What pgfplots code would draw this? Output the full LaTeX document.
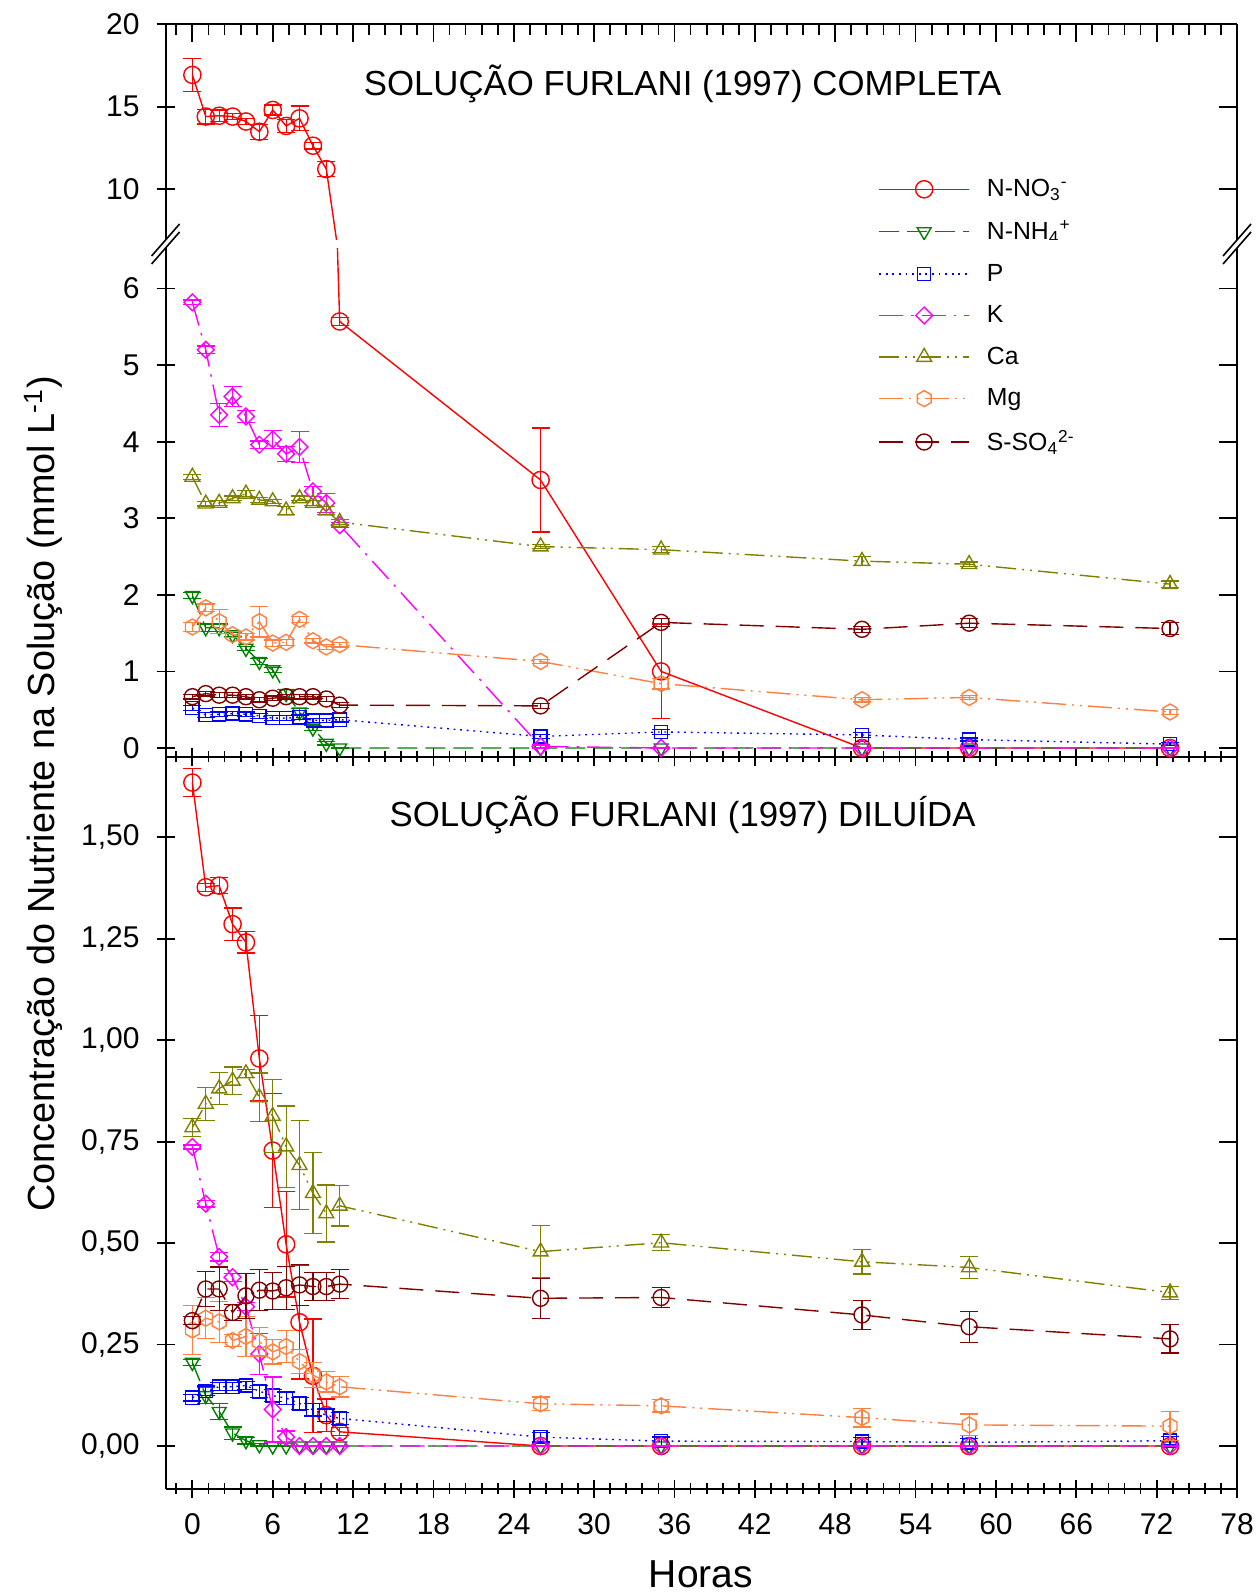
\documentclass[border=0pt]{standalone}
\usepackage{fontspec}
\setmainfont{Liberation Sans}
\usepackage{pgfplots}
\pgfplotsset{compat=1.18}
\usetikzlibrary{plotmarks}

\definecolor{cNO}{RGB}{255,0,0}
\definecolor{cNH}{RGB}{0,128,0}
\definecolor{cP}{RGB}{0,0,255}
\definecolor{cK}{RGB}{255,0,255}
\definecolor{cCa}{RGB}{128,128,0}
\definecolor{cMg}{RGB}{255,128,64}
\definecolor{cS}{RGB}{128,0,0}

\pgfdeclareplotmark{hexa}{%
  \pgfpathmoveto{\pgfpointpolar{90}{\pgfplotmarksize}}%
  \pgfpathlineto{\pgfpointpolar{150}{\pgfplotmarksize}}%
  \pgfpathlineto{\pgfpointpolar{210}{\pgfplotmarksize}}%
  \pgfpathlineto{\pgfpointpolar{270}{\pgfplotmarksize}}%
  \pgfpathlineto{\pgfpointpolar{330}{\pgfplotmarksize}}%
  \pgfpathlineto{\pgfpointpolar{30}{\pgfplotmarksize}}%
  \pgfpathclose
  \pgfusepathqstroke}
\pgfdeclareplotmark{rhomb}{%
  \pgfpathmoveto{\pgfqpoint{0pt}{\pgfplotmarksize}}%
  \pgfpathlineto{\pgfqpoint{\pgfplotmarksize}{0pt}}%
  \pgfpathlineto{\pgfqpoint{0pt}{-\pgfplotmarksize}}%
  \pgfpathlineto{\pgfqpoint{-\pgfplotmarksize}{0pt}}%
  \pgfpathclose
  \pgfusepathqstroke}

\pgfplotsset{
  panel/.style={width=535.7pt, scale only axis, anchor=south west,
    xmin=-2, xmax=78, xtick={0,6,...,78}, minor xtick={-1.2,0,...,77},
    tick align=center, major tick length=9pt, minor tick length=5.5pt,
    axis line style={-, line width=1pt},
    every tick/.style={black, line width=0.9pt},
    tick label style={font=\fontsize{15}{15}\selectfont},
    yticklabel style={xshift=-5pt},
    xticklabel style={yshift=-4.6pt},
    /pgf/number format/assume math mode=true,
    clip mode=individual},
  rside/.style={panel, axis x line=none, axis y line*=right, tick align=inside, yticklabels={}},
  eb/.style={error bars/y dir=both, error bars/y explicit,
    error bars/error bar style={solid, line width=0.6pt},
    error bars/error mark options={rotate=90, mark size=4.5pt, line width=0.6pt, solid}},
  sNO/.style={color=cNO, solid, line width=0.7pt, mark=o, mark size=4.3pt, mark options={solid}},
  sNH/.style={color=cNH, dash pattern=on 10pt off 4pt, line width=0.7pt, mark=triangle, mark size=4pt, mark options={solid, rotate=180}},
  sP/.style={color=cP, dash pattern=on 0.9pt off 2.4pt, line width=0.7pt, mark=square, mark size=3.3pt, mark options={solid}},
  sK/.style={color=cK, dash pattern=on 12pt off 4pt on 1.2pt off 4pt, line width=0.7pt, mark=rhomb, mark size=4.2pt, mark options={solid}},
  sCa/.style={color=cCa, dash pattern=on 10pt off 3pt on 1pt off 3pt on 1pt off 3pt, line width=0.7pt, mark=triangle, mark size=4.3pt, mark options={solid}},
  sMg/.style={color=cMg, dash pattern=on 12pt off 3pt on 1pt off 3pt on 1pt off 3pt, line width=0.7pt, mark=hexa, mark size=4pt, mark options={solid}},
  sS/.style={color=cS, dash pattern=on 12pt off 6pt, line width=0.7pt, mark=o, mark size=4pt, mark options={solid}},
}

\begin{document}
\begin{tikzpicture}
\useasboundingbox (0,0) rectangle (627.5pt,796.5pt);

% ---------- top panel (complete solution, N-NO3 above the break)
\begin{axis}[panel, at={(82.8pt,674.5pt)}, height=109.8pt,
  ymin=6.66, ymax=20, ytick={10,15,20},
  axis x line=none, axis y line*=left]
\addplot[sNO, eb] table[x=t, y=v, y error=e, row sep=\\] {
t v e\\
0 16.93 1.0\\
1 14.40 0.45\\
2 14.45 0.35\\
3 14.40 0.2\\
4 14.10 0.2\\
5 13.48 0.45\\
6 14.80 0.3\\
7 13.83 0.4\\
8 14.29 0.75\\
9 12.63 0.2\\
10 11.21 0.45\\
};
\addplot[sNO, mark=none, forget plot] coordinates {(10,11.21) (11,5.57)};
\node[font=\fontsize{17.4}{17.4}\selectfont] at (axis cs:36.6,16.36) {SOLUÇÃO FURLANI (1997) COMPLETA};
\end{axis}
\begin{axis}[panel, at={(82.8pt,674.5pt)}, height=109.8pt,
  ymin=6.66, ymax=20, ytick={10,15,20},
  axis x line*=top, axis y line*=right, tick align=inside,
  xticklabels={}, yticklabels={}]
\end{axis}

% ---------- middle panel (complete solution, 0-6.5)
\begin{axis}[panel, at={(82.8pt,418pt)}, height=256.5pt,
  ymin=-0.1175, ymax=6.582, ytick={0,1,...,6},
  axis x line*=bottom, axis y line*=left, xticklabels={},
  legend cell align=left,
  legend style={draw=none, fill=none, at={(0.665,1.135)}, anchor=north west,
    font=\fontsize{12.4}{14}\selectfont, row sep=6.7pt, inner sep=0pt,
    /tikz/every odd column/.style={column sep=6.5pt}},
  legend image code/.code={\draw[mark repeat=2, mark phase=2, #1] plot coordinates {(0pt,0pt) (22.5pt,0pt) (45pt,0pt)};}]
\addplot[sNO, eb] table[x=t, y=v, y error=e, row sep=\\] {
t v e\\
11 5.57 0.05\\
26 3.50 0.68\\
35 1.00 0.62\\
50 0 0\\
58 0 0\\
73 0 0\\
};
\addlegendentry{N-NO\textsubscript{3}\textsuperscript{-}}
\addplot[sNO, mark=none, forget plot] coordinates {(10,11.21) (11,5.57)};
\addplot[sNH, eb] table[x=t, y=v, y error=e, row sep=\\] {
t v e\\
0 1.99 0.04\\
1 1.57 0.05\\
2 1.57 0.05\\
3 1.48 0.03\\
4 1.30 0.03\\
5 1.13 0.04\\
6 1.02 0.03\\
7 0.71 0.05\\
8 0.47 0.05\\
9 0.26 0.03\\
10 0.06 0.02\\
11 0 0\\
26 0 0\\
35 0 0\\
50 0 0\\
58 0 0\\
73 0 0\\
};
\addlegendentry{N-NH\textsubscript{4}\textsuperscript{+}}
\addplot[sP, eb] table[x=t, y=v, y error=e, row sep=\\] {
t v e\\
0 0.52 0.03\\
1 0.43 0.03\\
2 0.44 0.03\\
3 0.45 0.03\\
4 0.44 0.03\\
5 0.42 0.03\\
6 0.39 0.03\\
7 0.39 0.03\\
8 0.40 0.03\\
9 0.36 0.03\\
10 0.36 0.03\\
11 0.37 0.03\\
26 0.15 0.03\\
35 0.21 0.03\\
50 0.17 0.03\\
58 0.11 0.02\\
73 0.05 0.02\\
};
\addlegendentry{P}
\addplot[sK, eb] table[x=t, y=v, y error=e, row sep=\\] {
t v e\\
0 5.82 0.03\\
1 5.20 0.05\\
2 4.35 0.15\\
3 4.59 0.13\\
4 4.33 0.08\\
5 3.96 0.05\\
6 4.03 0.12\\
7 3.84 0.10\\
8 3.93 0.20\\
9 3.35 0.07\\
10 3.20 0.12\\
11 2.91 0.03\\
26 0.02 0.02\\
35 0 0\\
50 0 0\\
58 0 0\\
73 0 0\\
};
\addlegendentry{K}
\addplot[sCa, eb] table[x=t, y=v, y error=e, row sep=\\] {
t v e\\
0 3.54 0.03\\
1 3.19 0.03\\
2 3.20 0.03\\
3 3.26 0.03\\
4 3.32 0.04\\
5 3.24 0.03\\
6 3.22 0.03\\
7 3.10 0.05\\
8 3.26 0.03\\
9 3.20 0.03\\
10 3.10 0.05\\
11 2.95 0.03\\
26 2.63 0.03\\
35 2.59 0.04\\
50 2.44 0.06\\
58 2.40 0.03\\
73 2.14 0.04\\
};
\addlegendentry{Ca}
\addplot[sMg, eb] table[x=t, y=v, y error=e, row sep=\\] {
t v e\\
0 1.58 0.06\\
1 1.83 0.05\\
2 1.65 0.16\\
3 1.48 0.04\\
4 1.45 0.04\\
5 1.65 0.20\\
6 1.37 0.04\\
7 1.38 0.04\\
8 1.68 0.04\\
9 1.40 0.03\\
10 1.32 0.03\\
11 1.35 0.03\\
26 1.13 0.03\\
35 0.84 0.07\\
50 0.63 0.03\\
58 0.66 0.03\\
73 0.47 0.03\\
};
\addlegendentry{Mg}
\addplot[sS, eb] table[x=t, y=v, y error=e, row sep=\\] {
t v e\\
0 0.67 0.03\\
1 0.71 0.03\\
2 0.69 0.03\\
3 0.69 0.03\\
4 0.67 0.03\\
5 0.63 0.03\\
6 0.65 0.03\\
7 0.67 0.03\\
8 0.67 0.03\\
9 0.67 0.03\\
10 0.64 0.03\\
11 0.56 0.03\\
26 0.55 0.03\\
35 1.64 0.05\\
50 1.55 0.04\\
58 1.63 0.06\\
73 1.56 0.08\\
};
\addlegendentry{S-SO\textsubscript{4}\textsuperscript{2-}}
\end{axis}
\begin{axis}[rside, at={(82.8pt,418pt)}, height=256.5pt,
  ymin=-0.1175, ymax=6.582, ytick={0,1,...,6}]
\end{axis}

% ---------- bottom panel (diluted solution)
\begin{axis}[panel, at={(82.8pt,52.15pt)}, height=365.85pt,
  ymin=-0.1052, ymax=1.698, ytick={0,0.25,0.5,0.75,1,1.25,1.5},
  yticklabel style={/pgf/number format/.cd, fixed, fixed zerofill, precision=2, use comma},
  axis x line*=bottom, axis y line*=left]
\addplot[sNO, eb] table[x=t, y=v, y error=e, row sep=\\] {
t v e\\
0 1.635 0.035\\
1 1.377 0.01\\
2 1.381 0.02\\
3 1.286 0.04\\
4 1.241 0.026\\
5 0.955 0.105\\
6 0.728 0.14\\
7 0.497 0.13\\
8 0.305 0.14\\
9 0.173 0.14\\
10 0.076 0.04\\
11 0.035 0.01\\
26 0 0\\
35 0 0\\
50 0 0\\
58 0 0\\
73 0 0\\
};
\addplot[sNH, eb] table[x=t, y=v, y error=e, row sep=\\] {
t v e\\
0 0.206 0.008\\
1 0.124 0.02\\
2 0.085 0.02\\
3 0.032 0.015\\
4 0.013 0.008\\
5 0.003 0.003\\
6 0 0\\
7 0 0\\
8 0 0\\
9 0 0\\
10 0 0\\
11 0 0\\
26 0 0\\
35 0 0\\
50 0 0\\
58 0 0\\
73 0 0\\
};
\addplot[sP, eb] table[x=t, y=v, y error=e, row sep=\\] {
t v e\\
0 0.119 0.008\\
1 0.136 0.012\\
2 0.146 0.01\\
3 0.146 0.01\\
4 0.149 0.01\\
5 0.135 0.015\\
6 0.124 0.015\\
7 0.118 0.015\\
8 0.105 0.015\\
9 0.089 0.015\\
10 0.076 0.015\\
11 0.068 0.015\\
26 0.022 0.012\\
35 0.012 0.01\\
50 0.011 0.01\\
58 0.009 0.01\\
73 0.013 0.01\\
};
\addplot[sK, eb] table[x=t, y=v, y error=e, row sep=\\] {
t v e\\
0 0.737 0.005\\
1 0.597 0.008\\
2 0.466 0.01\\
3 0.416 0.01\\
4 0.343 0.01\\
5 0.227 0.05\\
6 0.09 0.08\\
7 0.022 0.015\\
8 0 0\\
9 0 0\\
10 0 0\\
11 0 0\\
26 0 0\\
35 0 0\\
50 0 0\\
58 0 0\\
73 0 0\\
};
\addplot[sCa, eb] table[x=t, y=v, y error=e, row sep=\\] {
t v e\\
0 0.785 0.023\\
1 0.843 0.04\\
2 0.881 0.04\\
3 0.900 0.034\\
4 0.918 0.01\\
5 0.859 0.06\\
6 0.813 0.09\\
7 0.738 0.10\\
8 0.692 0.11\\
9 0.623 0.10\\
10 0.573 0.07\\
11 0.592 0.05\\
26 0.479 0.064\\
35 0.501 0.02\\
50 0.454 0.03\\
58 0.440 0.028\\
73 0.378 0.016\\
};
\addplot[sMg, eb] table[x=t, y=v, y error=e, row sep=\\] {
t v e\\
0 0.286 0.06\\
1 0.315 0.05\\
2 0.306 0.05\\
3 0.260 0.015\\
4 0.270 0.05\\
5 0.257 0.035\\
6 0.232 0.03\\
7 0.245 0.04\\
8 0.208 0.03\\
9 0.175 0.03\\
10 0.158 0.025\\
11 0.146 0.025\\
26 0.104 0.017\\
35 0.099 0.015\\
50 0.070 0.023\\
58 0.052 0.027\\
73 0.049 0.036\\
};
\addplot[sS, eb] table[x=t, y=v, y error=e, row sep=\\] {
t v e\\
0 0.309 0.01\\
1 0.387 0.043\\
2 0.387 0.054\\
3 0.329 0.02\\
4 0.370 0.055\\
5 0.384 0.05\\
6 0.382 0.046\\
7 0.390 0.053\\
8 0.397 0.05\\
9 0.393 0.035\\
10 0.393 0.035\\
11 0.399 0.035\\
26 0.364 0.049\\
35 0.366 0.025\\
50 0.323 0.035\\
58 0.294 0.038\\
73 0.264 0.035\\
};
\node[font=\fontsize{17.4}{17.4}\selectfont] at (axis cs:36.6,1.555) {SOLUÇÃO FURLANI (1997) DILUÍDA};
\end{axis}
\begin{axis}[rside, at={(82.8pt,52.15pt)}, height=365.85pt,
  ymin=-0.1052, ymax=1.698, ytick={0,0.25,0.5,0.75,1,1.25,1.5}]
\end{axis}

% ---------- axis break marks
\fill[white] (75pt,672.5pt) rectangle (626pt,676.5pt);
\foreach \xx in {82.8pt,618.5pt}{
  \draw[line width=0.8pt] ([xshift=-7pt]\xx,664.5pt) -- ([xshift=7pt]\xx,680.5pt);
  \draw[line width=0.8pt] ([xshift=-7pt]\xx,668.5pt) -- ([xshift=7pt]\xx,684.5pt);
}

% ---------- axis titles
\node[rotate=90, font=\fontsize{18.9}{20}\selectfont] at (21.6pt,399.5pt)
  {Concentração do Nutriente na Solução (mmol L\textsuperscript{-1})};
\node[anchor=base, font=\fontsize{19.5}{20}\selectfont] at (350.5pt,2.5pt) {Horas};
\end{tikzpicture}
\end{document}
